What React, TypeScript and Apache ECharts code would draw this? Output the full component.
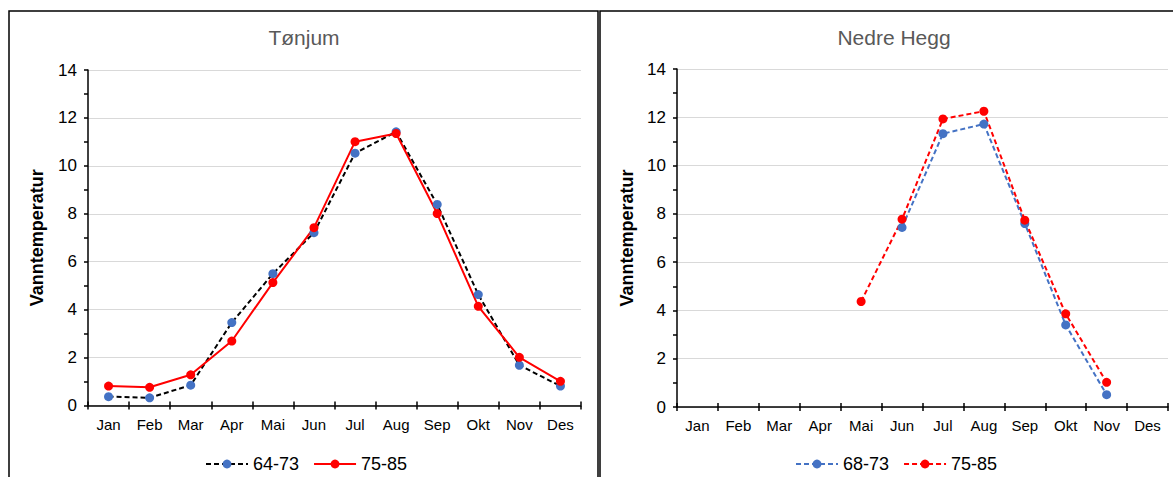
import React, { useEffect, useRef } from "react";
import * as echarts from "echarts";

const months = ["Jan", "Feb", "Mar", "Apr", "Mai", "Jun", "Jul", "Aug", "Sep", "Okt", "Nov", "Des"];
const yTicks = [0, 14, 2];

const tonjumTitle = "Tønjum";
const tonjumNames = ["64-73", "75-85"];
const tonjum6473 = [0.37, 0.32, 0.85, 3.46, 5.5, 7.21, 10.53, 11.42, 8.39, 4.63, 1.68, 0.81];
const tonjum7585 = [0.81, 0.76, 1.28, 2.69, 5.13, 7.42, 11.01, 11.35, 8.01, 4.14, 2.01, 1.01];

const heggTitle = "Nedre Hegg";
const heggNames = ["68-73", "75-85"];
const hegg6873 = [null, null, null, null, null, 7.44, 11.32, 11.72, 7.6, 3.4, 0.51, null];
const hegg7585 = [null, null, null, null, 4.37, 7.78, 11.93, 12.25, 7.74, 3.86, 1.02, null];

const yName = "Vanntemperatur";
const FONT = "'Liberation Sans', Arial, sans-serif";

type SeriesCfg = { name: string; data: (number | null)[]; color: string; lineColor: string; dashed: boolean };

function makeOption(p: {
  title: string;
  titleX: number;
  grid: { left: number; right: number; top: number; bottom: number };
  nameGap: number;
  legendLeft: number;
  border: { x: number; y: number; w: number; h: number };
  series: SeriesCfg[];
}) {
  return {
    animation: false,
    textStyle: { fontFamily: FONT },
    graphic: [
      {
        type: "rect",
        shape: { x: p.border.x, y: p.border.y, width: p.border.w, height: p.border.h },
        style: { fill: "none", stroke: "#000", lineWidth: 1.5 },
        silent: true,
      },
      {
        type: "text",
        x: p.titleX,
        y: 37,
        style: {
          text: p.title,
          fill: "#595959",
          font: `21px ${FONT}`,
          textAlign: "center",
          textVerticalAlign: "middle",
        },
      },
    ],
    grid: { ...p.grid, containLabel: false },
    legend: {
      left: p.legendLeft,
      top: 450,
      itemWidth: 42,
      itemHeight: 11,
      itemGap: 14,
      textStyle: { fontSize: 18, color: "#000", fontFamily: FONT },
      data: p.series.map((s) => s.name),
    },
    xAxis: [
      {
        type: "category",
        data: months,
        boundaryGap: true,
        axisLine: { show: true, lineStyle: { color: "#000", width: 1.5 } },
        axisTick: { show: true, inside: false, length: 4, lineStyle: { color: "#000", width: 1.5 } },
        axisLabel: { color: "#000", fontSize: 15, margin: 11, fontFamily: FONT },
        splitLine: { show: false },
      },
      {
        type: "category",
        data: months,
        position: "bottom",
        boundaryGap: true,
        axisLine: { show: false },
        axisTick: { show: true, inside: true, length: 4, lineStyle: { color: "#000", width: 1.5 } },
        axisLabel: { show: false },
        splitLine: { show: false },
      },
    ],
    yAxis: {
      type: "value",
      min: yTicks[0],
      max: yTicks[1],
      interval: yTicks[2],
      name: yName,
      nameLocation: "middle",
      nameGap: p.nameGap,
      nameTextStyle: { fontSize: 18, fontWeight: "bold", color: "#000", fontFamily: FONT },
      axisLine: { show: true, lineStyle: { color: "#000", width: 1.5 } },
      axisTick: { show: true, inside: false, length: 4, lineStyle: { color: "#000", width: 1.5 } },
      minorTick: { show: true, splitNumber: 2, length: 4, lineStyle: { color: "#000", width: 1.5 } },
      axisLabel: { color: "#000", fontSize: 17, margin: 11, fontFamily: FONT },
      splitLine: { show: true, lineStyle: { color: "#d9d9d9", width: 1 } },
    },
    series: p.series.map((s) => ({
      name: s.name,
      type: "line",
      xAxisIndex: 0,
      data: s.data,
      symbol: "circle",
      symbolSize: 9,
      showSymbol: true,
      connectNulls: false,
      itemStyle: { color: s.color },
      lineStyle: { color: s.lineColor, width: 2, type: s.dashed ? [5, 3] : "solid" },
    })),
  };
}

function Chart(props: { style: React.CSSProperties; option: any }) {
  const ref = useRef<HTMLDivElement>(null);
  useEffect(() => {
    if (!ref.current) return;
    const chart = echarts.init(ref.current, undefined, { renderer: "svg" });
    chart.setOption(props.option);
    return () => chart.dispose();
  }, []);
  return <div ref={ref} style={props.style} />;
}

export default function App() {
  useEffect(() => {
    document.body.style.margin = "0";
  }, []);

  const leftOption = makeOption({
    title: tonjumTitle,
    titleX: 304,
    grid: { left: 88, right: 18, top: 70, bottom: 71.5 },
    nameGap: 42,
    legendLeft: 200,
    border: { x: 9, y: 11, w: 589, h: 480 },
    series: [
      { name: tonjumNames[0], data: tonjum6473, color: "#4472C4", lineColor: "#000000", dashed: true },
      { name: tonjumNames[1], data: tonjum7585, color: "#FF0000", lineColor: "#FF0000", dashed: false },
    ],
  });

  const rightOption = makeOption({
    title: heggTitle,
    titleX: 295,
    grid: { left: 78, right: 5, top: 69, bottom: 70 },
    nameGap: 40,
    legendLeft: 191,
    border: { x: 1, y: 11, w: 600, h: 480 },
    series: [
      { name: heggNames[0], data: hegg6873, color: "#4472C4", lineColor: "#4472C4", dashed: true },
      { name: heggNames[1], data: hegg7585, color: "#FF0000", lineColor: "#FF0000", dashed: true },
    ],
  });

  return (
    <div style={{ position: "relative", width: 1173, height: 477, overflow: "hidden", background: "#fff" }}>
      <Chart option={leftOption} style={{ position: "absolute", left: 0, top: 0, width: 599, height: 477 }} />
      <Chart option={rightOption} style={{ position: "absolute", left: 599, top: 0, width: 574, height: 477 }} />
    </div>
  );
}
